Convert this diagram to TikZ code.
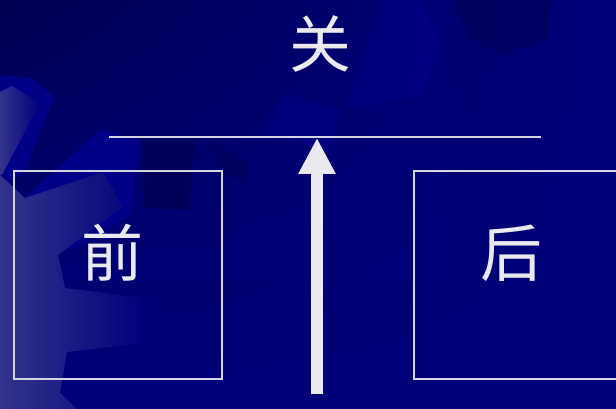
\documentclass[tikz,border=0pt]{standalone}
\usepackage{fontspec}
\newfontfamily\cjk{Noto Sans CJK SC}
\usetikzlibrary{arrows.meta,shadings}
\definecolor{navy}{HTML}{00007A}
\definecolor{navydark}{HTML}{000052}
\definecolor{navymid}{HTML}{000088}
\definecolor{gearlight}{HTML}{34348C}
\definecolor{ink}{HTML}{EAEAEE}
\tikzset{
  charlbl/.style={text=ink, font=\cjk\fontsize{62}{62}\selectfont, inner sep=0pt},
  framebox/.style={draw=ink!90!navy, line width=2pt},
  rule/.style={draw=ink!90!navy, line width=2pt},
  bigarrow/.style={draw=ink, line width=12pt, -{Triangle[width=35pt,length=36pt]}}
}
\begin{document}
\begin{tikzpicture}[x=1pt,y=-1pt]
\useasboundingbox (0,0) rectangle (616,409);
\clip (0,0) rectangle (616,409);
% background
\shade[upper left=navydark, upper right=navy, lower left=navy, lower right=navy] (0,0) rectangle (616,409);
\shade[upper left=navydark, upper right=navy, lower left=navy, lower right=navy, opacity=0.6] (0,0) rectangle (450,280);
% subtle gear shapes
\fill[navymid, opacity=0.6] (385,0) -- (420,0) -- (440,40) -- (425,95) -- (345,110) -- cycle;
\fill[navymid, opacity=0.6] (285,93) -- (340,110) -- (330,150) -- (262,133) -- cycle;
\fill[navydark, opacity=0.5] (453,0) -- (550,0) -- (547,40) -- (502,55) -- (470,40) -- cycle;
\fill[navydark, opacity=0.7] (143,140) -- (195,140) -- (190,210) -- (143,208) -- cycle;
\fill[navydark, opacity=0.5] (205,140) -- (245,160) -- (250,180) -- (230,178) -- cycle;
\fill[navymid] (0,75) -- (32,78) -- (54,97) -- (25,170) -- (0,190) -- cycle;
\fill[navymid] (25,198) -- (100,130) -- (140,140) -- (130,215) -- (70,250) -- cycle;
% light gear
\shade[left color=gearlight, right color=navy]
  (0,92) -- (12,86) -- (40,103) -- (2,175) -- (0,175) -- cycle;
\shade[left color=gearlight, right color=navy]
  (0,175) -- (25,198) -- (103,172) -- (123,207) -- (58,255) -- (65,288) -- (145,298)
  -- (145,343) -- (67,352) -- (60,393) -- (77,409) -- (0,409) -- cycle;
% diagram
\node[charlbl] (guan) at (320,44) {关};
\coordinate (ruleL) at (109,137);
\coordinate (ruleR) at (541,137);
\coordinate (tip) at (317,138);
\coordinate (base) at (317,394);
\draw[rule] (ruleL) -- (ruleR);
\node[framebox, minimum width=208pt, minimum height=208pt, anchor=north west] (qianbox) at (13,170) {};
\node[charlbl] (qian) at (112,253) {前};
\node[framebox, minimum width=230pt, minimum height=208pt, anchor=north west] (houbox) at (413,170) {};
\node[charlbl] (hou) at (511,253) {后};
\draw[bigarrow] (base) -- (tip);
\end{tikzpicture}
\end{document}
